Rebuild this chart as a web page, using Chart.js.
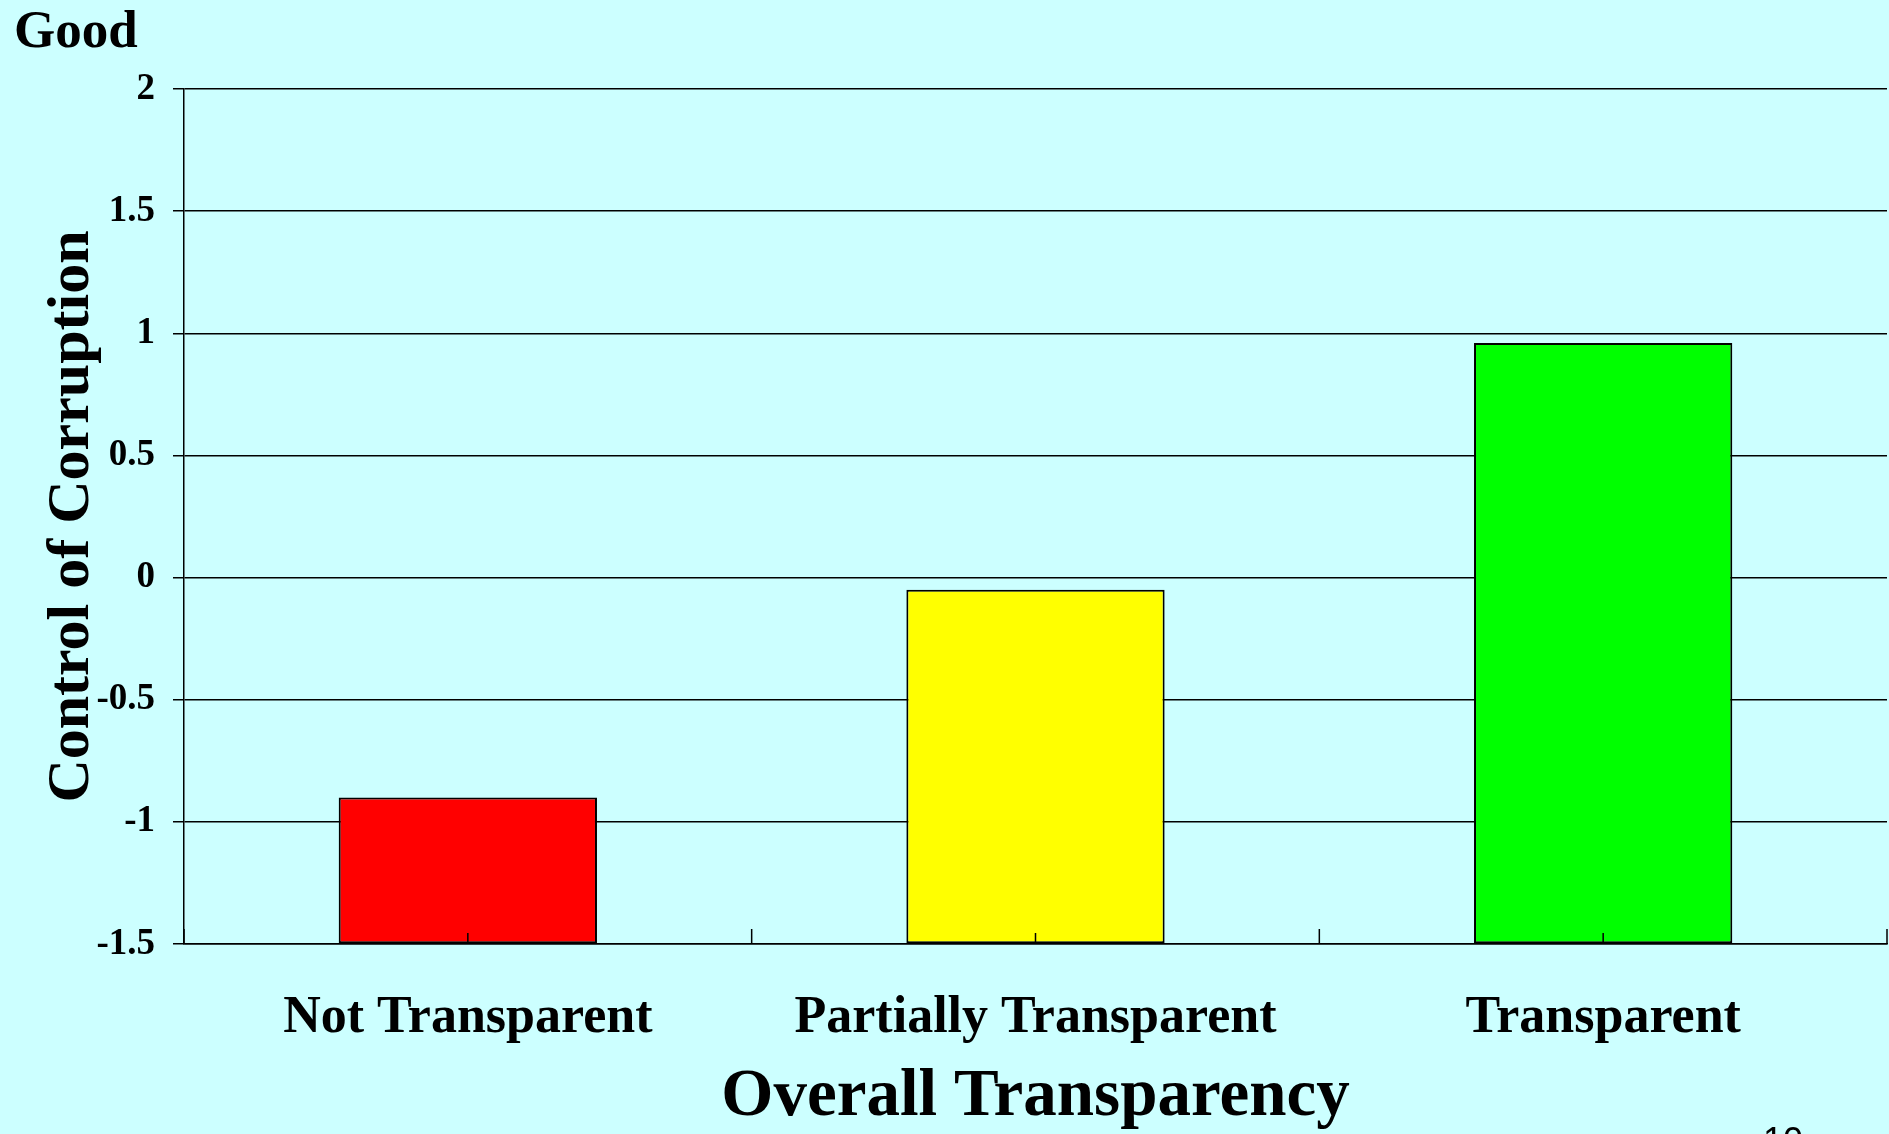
<!DOCTYPE html>
<html>
<head>
<meta charset="utf-8">
<script src="https://cdn.jsdelivr.net/npm/chart.js@4"></script>
<style>
  html, body { margin: 0; padding: 0; background: #CCFFFF; overflow: hidden; }
  #wrap { position: relative; width: 1889px; height: 1134px; }
  .lbl { position: absolute; white-space: nowrap; color: #000; }
  #good { left: 14px; top: 3px; font: bold 53px/53px "Liberation Serif", "Times New Roman", serif; }
  #page { left: 1763px; top: 1123px; font: 36px/36px "Liberation Sans", Arial, sans-serif; }
</style>
</head>
<body>
<div id="wrap">
  <canvas id="barChart" width="1889" height="1134"></canvas>
  <div class="lbl" id="good">Good</div>
  <div class="lbl" id="page">10</div>
</div>
<script>
// data
var categories = ["Not Transparent", "Partially Transparent", "Transparent"];
var corruptionValues = [-0.90, -0.05, 0.96];
var barColors = ["#FF0000", "#FFFF00", "#00FF00"];
var yTickLabels = ["-1.5", "-1", "-0.5", "0", "0.5", "1", "1.5", "2"];
var yMin = -1.5, yMax = 2, yStep = 0.5;

var serif = '"Liberation Serif", "Times New Roman", serif';

// small inward ticks on the category axis (centres and boundaries)
var categoryTicks = {
    id: "categoryTicks",
    afterDatasetsDraw: function (chart) {
        var xs = chart.scales.x, area = chart.chartArea, ctx = chart.ctx;
        var n = categories.length;
        ctx.save();
        ctx.strokeStyle = "#000";
        ctx.lineWidth = 1.5;
        ctx.beginPath();
        for (var i = 0; i < n; i++) {
            var c = xs.getPixelForValue(i);
            ctx.moveTo(c, area.bottom);
            ctx.lineTo(c, area.bottom - 11);
        }
        for (var j = 0; j <= n; j++) {
            var b;
            if (j === 0) b = area.left;
            else if (j === n) b = area.right;
            else b = (xs.getPixelForValue(j - 1) + xs.getPixelForValue(j)) / 2;
            ctx.moveTo(b, area.bottom);
            ctx.lineTo(b, area.bottom - 15);
        }
        ctx.stroke();
        ctx.restore();
    }
};

var barData = {
    labels: categories,
    datasets: [
        {
            data: corruptionValues,
            base: yMin,
            backgroundColor: barColors,
            borderColor: "#000000",
            borderWidth: 2,
            borderSkipped: false,
            categoryPercentage: 1.0,
            barPercentage: 0.455
        }
    ]
};

var barOptions = {
    responsive: false,
    animation: false,
    layout: { padding: { top: 89, right: 2, left: 0, bottom: 0 } },
    plugins: {
        legend: { display: false },
        tooltip: { enabled: false }
    },
    scales: {
        x: {
            afterFit: function (scale) { scale.height = 190; },
            grid: { display: false, drawTicks: false },
            border: { display: true, color: "#000", width: 1.5 },
            ticks: {
                color: "#000",
                padding: 43,
                font: { family: serif, size: 52, weight: "bold" }
            },
            title: {
                display: true,
                text: "Overall Transparency",
                color: "#000",
                font: { family: serif, size: 67, weight: "bold", lineHeight: 1 },
                padding: { top: 0, bottom: 3 }
            }
        },
        y: {
            min: yMin,
            max: yMax,
            afterFit: function (scale) { scale.width = 184; },
            grid: { color: "#000", lineWidth: 1.5, tickLength: 11, tickColor: "#000" },
            border: { display: true, color: "#000", width: 1.5 },
            ticks: {
                stepSize: yStep,
                color: "#000",
                padding: 18,
                font: { family: serif, size: 37, weight: "bold" },
                callback: function (value, index) { return yTickLabels[index]; }
            },
            title: {
                display: true,
                text: "Control of Corruption",
                color: "#000",
                font: { family: serif, size: 60, weight: "bold", lineHeight: 1 },
                padding: { top: 42, bottom: 0 }
            }
        }
    }
};

var barChart = new Chart(document.getElementById("barChart"), {
    type: "bar",
    data: barData,
    options: barOptions,
    plugins: [categoryTicks]
});
</script>
</body>
</html>
